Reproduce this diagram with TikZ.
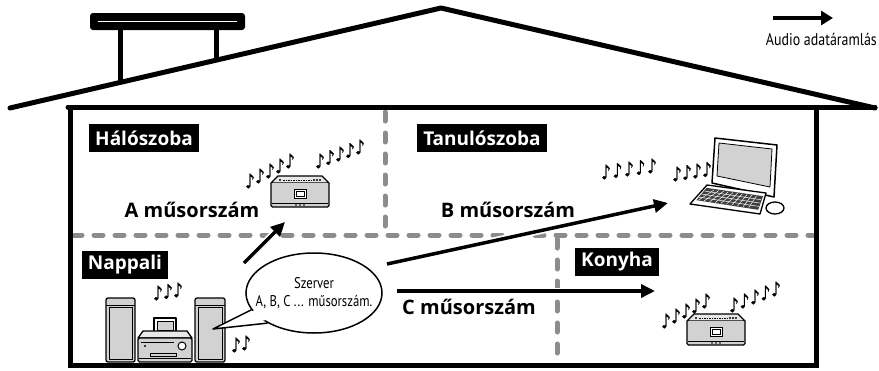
\documentclass[tikz,border=0pt]{standalone}
\usepackage{fontspec}
\setmainfont{PT Sans}
\newfontfamily\labelfont{Open Sans}
\newfontfamily\narrowfont{PT Sans}[FakeStretch=0.82]
\newfontfamily\symbfont{DejaVu Sans}[FakeBold=1.2, FakeStretch=0.78]
\usetikzlibrary{arrows.meta, shapes.geometric, calc}

\definecolor{wallgray}{HTML}{8C8C8C}
\definecolor{devgray}{HTML}{D2D2D2}

\tikzset{
  room/.style={fill=black, text=white, font=\labelfont\fontsize{19}{19}\selectfont\bfseries, minimum height=28pt, inner xsep=6pt, inner ysep=0pt},
  track/.style={font=\labelfont\fontsize{20}{20}\selectfont\bfseries, inner sep=0pt},
  flow/.style={line width=3.5pt, -{Triangle[length=14pt, width=13pt]}, preaction={draw=white, line width=7pt, arrows=-}},
  partition/.style={draw=wallgray, line width=5pt, line cap=round, dash pattern=on 9pt off 12pt},
  wall/.style={line width=5pt, line cap=round, line join=round},
  note/.style={font=\symbfont\fontsize{20}{20}\selectfont, inner sep=0pt},
  dev/.style={draw, line width=1.3pt, fill=devgray, line join=round},
  radio/.pic={
    \draw[dev, fill=devgray!50] (7,0) -- (51,0) -- (58,7) -- (0,7) -- cycle;
    \draw[line width=0.8pt, dash pattern=on 1.5pt off 1pt] (12,4) -- (40,4);
    \fill (9,4) circle (1.2pt) (43,4) circle (1.2pt) (46,4) circle (1.2pt) (49,4) circle (1.2pt);
    \draw[dev, rounded corners=1.5pt] (0,7) -- (0,31) -- (58,31) -- (58,7);
    \draw[line width=1pt, fill=white] (23,13) rectangle (35,22);
    \draw[line width=0.8pt] (25,15) rectangle (33,20);
    \draw[line width=0.8pt] (1,27) -- (57,27);
    \fill (25,29) circle (0.8pt) (29,29) circle (0.8pt) (33,29) circle (0.8pt);
  },
}

% a row of rising music notes: name, x, y, count, dx, dy
\newcommand{\noterow}[6]{%
  \foreach \k in {1,...,#4}
    \node[note] (#1\k) at ({#2+(\k-1)*#5}, {#3+(\k-1)*#6}) {♪};
}

\begin{document}
\begin{tikzpicture}[x=1pt, y=-1pt]
  \useasboundingbox (0,0) rectangle (879,370);

  % inner partitions
  \draw[partition] (73,235) -- (813,235);
  \draw[partition] (385,112) -- (385,232);
  \draw[partition] (557,239) -- (557,362);

  % roof, antenna and outer walls
  \draw[line width=5pt] (120,28) -- (120,83);
  \draw[line width=5pt] (216,28) -- (216,61);
  \fill[rounded corners=3pt] (90,13) rectangle (245,30);
  \draw[white, line width=1.5pt] (98,21.5) -- (237,21.5);
  \draw[wall] (10,108) -- (441,8) -- (875,108);
  \draw[wall] (68,107) -- (875,107);
  \draw[line width=5pt] (70,107) -- (70,365.5) -- (816,365.5) -- (816,107);

  % music
  \noterow{hl}{250}{181}{5}{10}{-5}
  \noterow{hr}{320}{161}{5}{10}{-3.5}
  \noterow{tl}{606}{172}{5}{11.5}{-1.5}
  \noterow{tr}{677}{174}{4}{10}{-1.5}
  \noterow{nl}{158}{293}{3}{10}{-1.5}
  \noterow{ns}{236}{345}{2}{10}{-2}
  \noterow{kl}{666}{321}{5}{10}{-5}
  \noterow{kr}{734}{305}{5}{10.5}{-4}

  % radios
  \pic at (271,176) {radio};
  \pic at (687,314) {radio};

  % computer
  \draw[line width=1.5pt, fill=white, line join=round] (715,138) -- (777,145) -- (774,197) -- (712,183) -- cycle;
  \draw[line width=0.8pt, fill=devgray] (719,143) -- (772,149) -- (770,187) -- (717,176) -- cycle;
  \coordinate (k1) at (707,185);
  \coordinate (k2) at (766,193);
  \coordinate (k3) at (760,214);
  \coordinate (k4) at (690,204);
  \draw[dev, fill=white] (k1) -- (k2) -- (k3) -- (k4) -- cycle;
  \fill[black!75] ($(k1)!0.15!(k4)+(2,0)$) -- ($(k2)!0.15!(k3)+(-2,0)$) -- ($(k2)!0.8!(k3)+(-3,0)$) -- ($(k1)!0.8!(k4)+(3,0)$) -- cycle;
  \foreach \t in {0.32,0.48,0.64}
    \draw[white, line width=0.5pt] ($(k1)!\t!(k4)+(3,0)$) -- ($(k2)!\t!(k3)+(-3,0)$);
  \foreach \s in {0.12,0.2,...,0.92}
    \draw[white, line width=0.5pt] ($(k1)!\s!(k2)+(0,4)$) -- ($(k4)!\s!(k3)+(0,-5)$);
  \draw[line width=1.3pt, fill=white] (775,208) ellipse [x radius=9, y radius=6];

  % stereo system
  \draw[dev, rounded corners=2pt] (106,298) rectangle (135,362);
  \draw[line width=1pt] (106,305) -- (135,305);
  \draw[line width=0.6pt] (109,307) rectangle (132,359);
  \draw[dev, rounded corners=2pt] (195,298) rectangle (225,362);
  \draw[line width=1pt] (195,305) -- (225,305);
  \draw[line width=0.6pt] (198,307) rectangle (222,359);
  \draw[dev, fill=white] (154,318) rectangle (176,334);
  \draw[line width=0.8pt, fill=devgray] (157,321) rectangle (173,330);
  \draw[dev, fill=devgray!50] (143,331) -- (187,331) -- (192,338) -- (138,338) -- cycle;
  \draw[dev, rounded corners=1.5pt] (138,338) rectangle (192,362);
  \draw[line width=0.8pt] (141,342) -- (174,342);
  \draw[line width=1pt, fill=white] (182,346) circle (4pt);
  \fill (145,346) circle (1.2pt);
  \draw[line width=0.8pt] (150,353) rectangle (176,356);
  \draw[line width=0.8pt] (139,358) -- (191,358);

  % server bubble
  \node[ellipse, draw, line width=1.5pt, fill=white, minimum width=136pt, minimum height=80pt] (srv) at (314,293) {};
  \coordinate (tip) at (213,329);
  \fill[white] (tip) -- ($(srv.195)!0.15!(srv.center)$) -- ($(srv.213)!0.15!(srv.center)$) -- cycle;
  \draw[line width=1.5pt, line join=round] (srv.195) -- (tip) -- (srv.213);
  \node[font=\narrowfont\fontsize{15.5}{17.5}\selectfont, align=center] (srvtext) at (srv.center) {Szerver\\A, B, C ... műsorszám.};

  % data flows
  \coordinate (aS) at (244,263);
  \coordinate (aE) at (285,222);
  \coordinate (bS) at (387,264);
  \coordinate (bE) at (668,203);
  \coordinate (cS) at (397,291);
  \coordinate (cE) at (655,291);
  \draw[flow] (aS) -- (aE);
  \draw[flow] (bS) -- (bE);
  \draw[flow] (cS) -- (cE);
  \node[track] (trackA) at (192,210) {A műsorszám};
  \node[track] (trackB) at (508,210) {B műsorszám};
  \node[track] (trackC) at (469,307) {C műsorszám};

  % room names
  \node[room] (bedroom) at (144,138) {Hálószoba};
  \node[room] (study) at (482,138) {Tanulószoba};
  \node[room] (living) at (125,265) {Nappali};
  \node[room] (kitchen) at (617,262) {Konyha};

  % legend
  \coordinate (lgS) at (773,18);
  \coordinate (lgE) at (833,18);
  \draw[line width=4pt, -{Triangle[length=12pt, width=14pt]}] (lgS) -- (lgE);
  \node[font=\narrowfont\fontsize{17}{17}\selectfont, anchor=east, inner sep=0pt] (legend) at (877,39) {Audio adatáramlás};
\end{tikzpicture}
\end{document}
